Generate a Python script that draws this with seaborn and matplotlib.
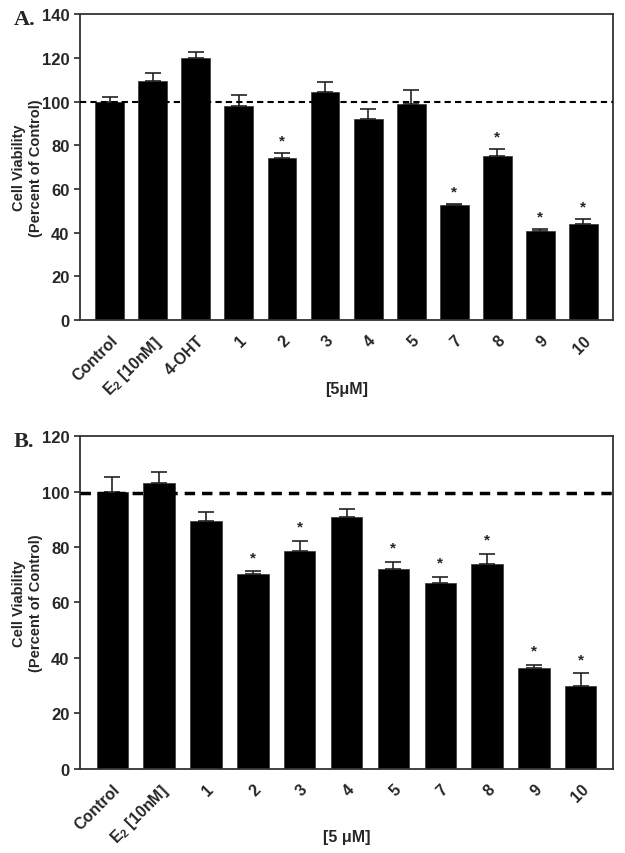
import numpy as np
import pandas as pd
import matplotlib
matplotlib.use("Agg")
import matplotlib.pyplot as plt
import seaborn as sns

sns.set_style("ticks")
plt.rcParams['font.family'] = ['Liberation Sans', 'DejaVu Sans']
plt.rcParams['font.weight'] = 'bold'
plt.rcParams['mathtext.fontset'] = 'custom'
plt.rcParams['mathtext.bf'] = 'Liberation Sans:bold'
plt.rcParams['mathtext.rm'] = 'Liberation Sans:bold'
plt.rcParams['mathtext.default'] = 'bf'

# Panel A data
labels_a = ['Control', 'E$_2$ [10nM]', '4-OHT', '1', '2', '3', '4', '5', '7', '8', '9', '10']
mean_a = [100.0, 109.3, 120.2, 97.9, 74.4, 104.6, 92.3, 98.8, 52.6, 75.2, 40.7, 43.9]
err_a = [2.0, 4.0, 2.7, 5.1, 2.0, 4.6, 4.5, 6.6, 0.6, 3.2, 1.1, 2.3]
sig_a = [0, 0, 0, 0, 1, 0, 0, 0, 1, 1, 1, 1]

# Panel B data
labels_b = ['Control', 'E$_2$ [10nM]', '1', '2', '3', '4', '5', '7', '8', '9', '10']
mean_b = [99.8, 103.2, 89.3, 70.2, 78.7, 90.8, 72.0, 66.9, 74.0, 36.2, 29.7]
err_b = [5.4, 3.8, 3.4, 1.1, 3.6, 2.8, 2.7, 2.4, 3.6, 1.3, 4.7]
sig_b = [0, 0, 0, 1, 1, 0, 1, 1, 1, 1, 1]

fig = plt.figure(figsize=(6.25, 8.54), dpi=100)
ax_a = fig.add_axes([0.128, 0.624, 0.853, 0.358])
ax_b = fig.add_axes([0.128, 0.0987, 0.853, 0.3893])


def draw_panel(ax, labels, means, errs, sig, ymax, ref, ref_lw, star_off,
               xlabel, xlabel_y, letter):
    df = pd.DataFrame({'group': labels, 'value': means})
    sns.barplot(data=df, x='group', y='value', color='black', width=0.67,
                saturation=1, ax=ax, errorbar=None, edgecolor='#333333', linewidth=0.5)
    x = np.arange(len(labels))
    ax.errorbar(x, means, yerr=[np.zeros(len(errs)), errs], fmt='none',
                ecolor='#222222', elinewidth=1.2, capsize=6, capthick=1.2, zorder=3)
    for xi, m, e, s in zip(x, means, errs, sig):
        if s:
            ax.text(xi, m + e + star_off, '*', ha='center', va='bottom',
                    fontsize=11, fontweight='bold')
    ax.axhline(ref, color='black', ls=(0, (3, 2)), lw=ref_lw, zorder=4)
    ax.set_xlim(-0.69, len(labels) - 0.31)
    ax.set_ylim(0, ymax)
    ax.set_yticks(np.arange(0, ymax + 1, 20))
    ax.set_xticks(x)
    ax.set_xticklabels(labels, rotation=45, ha='right', rotation_mode='anchor',
                       fontsize=11.5, fontweight='bold')
    ax.tick_params(axis='x', length=0, pad=9)
    ax.tick_params(axis='y', length=4, width=1.2, labelsize=12)
    for t in ax.get_yticklabels():
        t.set_fontweight('bold')
    for sp in ax.spines.values():
        sp.set_visible(True)
        sp.set_linewidth(1.3)
        sp.set_color('#333333')
    ax.set_xlabel(xlabel, fontsize=11.5, fontweight='bold')
    ax.xaxis.set_label_coords(0.5, xlabel_y)
    ax.xaxis.label.set_va('center')
    ax.set_ylabel('Cell Viability\n(Percent of Control)', fontsize=10.5,
                  fontweight='bold')
    ax.yaxis.set_label_coords(-0.0985, 0.5)
    ax.yaxis.label.set_va('center')
    ax.text(-0.125, 0.985, letter, transform=ax.transAxes, ha='left', va='center',
            fontsize=16, fontweight='bold', family='Liberation Serif')


draw_panel(ax_a, labels_a, mean_a, err_a, sig_a, 140, 100, 1.5, 2.5, '[5μM]', -0.225, 'A.')
draw_panel(ax_b, labels_b, mean_b, err_b, sig_b, 120, 99.5, 2.5, 2.5, '[5 μM]', -0.205, 'B.')

fig.savefig('out.png', dpi=100)
